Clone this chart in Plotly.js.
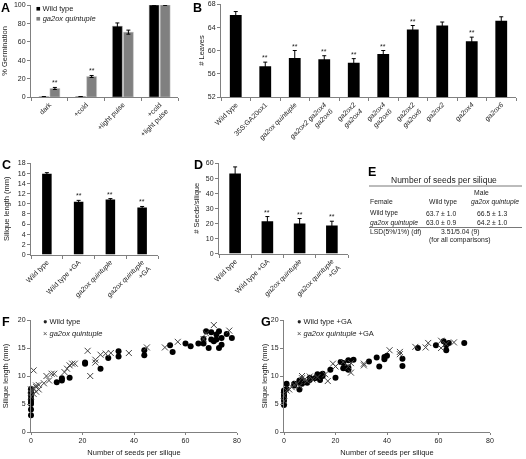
<!DOCTYPE html>
<html><head><meta charset="utf-8">
<script src="https://cdn.plot.ly/plotly-3.0.1.min.js"></script>
<style>body{margin:0;background:#fff}#c{width:526px;height:459px}#c svg{filter:grayscale(100%)}</style>
</head><body><div id="c"></div>
<script>
// ---------- data ----------
const germCats = ['dark', '+cold', '+light pulse', '+cold +light pulse'];
const germLabels = ['dark', '+cold', '+light pulse', '+cold<br>+light pulse'];
const germWT = [0.3, 0.5, 77, 100];
const germWTErr = [0, 0, 3.5, 0.4];
const germQ = [9.3, 22.3, 70.5, 100];
const germQErr = [1.1, 1.1, 2.2, 0.4];
const germQSig = [true, true, false, false];

const leafCats = ['Wild type', '35S:GA20ox1', 'ga2ox quintuple', 'ga2ox2 ga2ox4 ga2ox6', 'ga2ox2 ga2ox4', 'ga2ox4 ga2ox6', 'ga2ox2 ga2ox6', 'ga2ox2', 'ga2ox4', 'ga2ox6'];
const leafLabels = ['Wild type', '35S:GA20ox1', '<i>ga2ox quintuple</i>', '<i>ga2ox2 ga2ox4<br>ga2ox6</i>', '<i>ga2ox2<br>ga2ox4</i>', '<i>ga2ox4<br>ga2ox6</i>', '<i>ga2ox2<br>ga2ox6</i>', '<i>ga2ox2</i>', '<i>ga2ox4</i>', '<i>ga2ox6</i>'];
const leafVals = [66.1, 57.3, 58.7, 58.5, 57.9, 59.4, 63.6, 64.3, 61.6, 65.1];
const leafErr = [0.6, 0.7, 1.3, 0.6, 0.7, 0.6, 0.7, 0.6, 0.7, 0.7];
const leafSig = [false, true, true, true, true, true, true, false, true, false];

const treatCats = ['Wild type', 'Wild type +GA', 'ga2ox quintuple', 'ga2ox quintuple +GA'];
const treatLabels = ['Wild type', 'Wild type +GA', '<i>ga2ox quintuple</i>', '<i>ga2ox quintuple</i><br>+GA'];
const siliqueLen = [15.9, 10.4, 10.8, 9.25];
const siliqueLenErr = [0.2, 0.25, 0.2, 0.2];
const seedsPerSilique = [53, 21.4, 19.9, 18.6];
const seedsErr = [4.4, 3.1, 3.3, 2.8];
const treatSig = [false, true, true, true];

const tableTitle = 'Number of seeds per silique';
const tableMale = 'Male';
const tableHeader = ['Female', 'Wild type', '<i>ga2ox quintuple</i>'];
const tableRow1 = ['Wild type', '63.7 ± 1.0', '66.5 ± 1.3'];
const tableRow2 = ['<i>ga2ox quintuple</i>', '63.0 ± 0.9', '64.2 ± 1.0'];
const tableLSD = ['LSD(5%/1%) (df)', '3.51/5.04 (9)', '(for all comparisons)'];

const fWtX = [0,0,0,0,0,0,0,0, 10,12,12,15, 21,21, 27,30,34,34, 44,44, 54,55,60,62,65, 67,67,68,69,70,70,71,72,72,73,73,74,74,76,78];
const fWtY = [3.0,4.0,5.0,5.4,5.9,6.5,7.1,7.7, 8.9,9.2,9.6,9.7, 12.2,12.4, 11.3,13.2,13.5,14.4, 13.7,14.6, 15.5,14.3,15.8,15.3,15.8, 15.8,16.6,18.0,15.0,17.8,16.5,16.2,17.4,16.5,18.0,15.0,15.6,16.8,17.5,16.8];
const fQX = [0,0,0,1,1,1,2,2,2,3,3, 5,6,7,8,9,13,14,15,16,17, 22,23,25,25,27,29,31,38, 45,52,57,67,68,71,77];
const fQY = [6.3,7.0,7.6,11.0,6.8,7.8,8.3,7.2,8.0,7.6,8.4, 8.7,10.0,9.2,10.4,10.4,10.7,11.3,11.9,12.2,12.2, 14.5,10.0,12.9,12.4,13.8,14.0,14.1,14.1, 15.1,15.1,16.1,16.6,17.6,19.1,18.1];

const gWtX = [0,0,0,0,0,0, 1,1, 4,4, 6,6,6, 7,7, 9,10,10, 12,13,13,14,15,15, 18,20, 22,23,23,24,25,25,25,27, 33,36,37,39,39,40, 46,46, 52,59,62,63,63,64,70];
const gWtY = [4.8,5.6,6.2,6.6,7.0,7.4, 7.7,8.6, 8.3,8.6, 7.6,8.9,9.2, 8.6,9.3, 8.8,9.3,9.7, 9.6,10.3,9.9,9.3,10.0,10.4, 11.1,9.7, 12.5,12.3,11.4,11.4,11.1,11.5,12.8,12.9, 12.6,13.3,11.7,13.0,13.4,13.6, 13.1,11.8, 15.0,15.5,16.2,15.5,14.6,15.9,15.9];
const gQX = [0,0,1,2,3,4,5,6,7,7,8,9,10,11,13,16,17,19,20,23,25,26,26,31,31,41,45,45,51,55,56,61,61,63,66];
const gQY = [5.5,6.5,7.4,7.6,8.0,8.4,8.6,8.2,9.6,10.0,9.4,9.1,9.9,9.4,9.8,10.3,9.1,12.2,11.7,12.5,11.7,10.6,12.3,12.2,11.9,14.6,14.3,13.9,15.2,15.1,15.9,15.0,16.3,15.7,16.0];

// ---------- layout helpers ----------
const W = 526, H = 459;
const FONT = 'Liberation Sans, Arial, sans-serif';
const px = v => v / W;
const py = v => 1 - v / H;
const dx = (a, b) => [a / W, b / W];
const dy = (t, b) => [1 - b / H, 1 - t / H];
const AX = '#808080';
const TXT = '#222';

function axis(extra) {
  return Object.assign({
    showline: true, linecolor: AX, linewidth: 1, ticks: 'outside', ticklen: 3,
    tickcolor: AX, tickwidth: 1, showgrid: false, zeroline: false, fixedrange: true,
    tickfont: {family: FONT, size: 7, color: TXT}
  }, extra);
}
function catAxis(dom, anchor, cats, labels) {
  return axis({domain: dom, anchor: anchor, type: 'category', tickson: 'boundaries',
    tickmode: 'array', tickvals: cats, ticktext: labels, tickangle: -45,
    range: [-0.5, cats.length - 0.5]});
}
function ytitle(t, standoff) {
  return {text: t, font: {family: FONT, size: 7.5, color: TXT}, standoff: standoff};
}
const errStyle = (arr) => ({type: 'data', array: arr, visible: true, color: '#000', thickness: 1, width: 2});

const traces = [
  {type: 'bar', x: germCats, y: germWT, error_y: errStyle(germWTErr), xaxis: 'x', yaxis: 'y',
   marker: {color: '#000', line: {color: '#bbb', width: 0.5}}, offset: -0.285, width: 0.27, name: 'Wild type'},
  {type: 'bar', x: germCats, y: germQ, error_y: errStyle(germQErr), xaxis: 'x', yaxis: 'y',
   marker: {color: '#808080', line: {color: '#ccc', width: 0.5}}, offset: 0.015, width: 0.27, name: 'ga2ox quintuple'},
  {type: 'bar', x: leafCats, y: leafVals, error_y: errStyle(leafErr), xaxis: 'x2', yaxis: 'y2',
   marker: {color: '#000'}, width: 0.4, name: 'leaves'},
  {type: 'bar', x: treatCats, y: siliqueLen, error_y: errStyle(siliqueLenErr), xaxis: 'x3', yaxis: 'y3',
   marker: {color: '#000'}, width: 0.3, name: 'silique'},
  {type: 'bar', x: treatCats, y: seedsPerSilique, error_y: errStyle(seedsErr), xaxis: 'x4', yaxis: 'y4',
   marker: {color: '#000'}, width: 0.36, name: 'seeds'},
  {type: 'scatter', mode: 'markers', x: fWtX, y: fWtY, xaxis: 'x5', yaxis: 'y5', cliponaxis: false,
   marker: {symbol: 'circle', size: 6, color: '#000'}, name: 'Wild type'},
  {type: 'scatter', mode: 'markers', x: fQX, y: fQY, xaxis: 'x5', yaxis: 'y5', cliponaxis: false,
   marker: {symbol: 'x-thin', size: 6, line: {color: '#444', width: 1}}, name: 'ga2ox quintuple'},
  {type: 'scatter', mode: 'markers', x: gWtX, y: gWtY, xaxis: 'x6', yaxis: 'y6', cliponaxis: false,
   marker: {symbol: 'circle', size: 6, color: '#000'}, name: 'Wild type +GA'},
  {type: 'scatter', mode: 'markers', x: gQX, y: gQY, xaxis: 'x6', yaxis: 'y6', cliponaxis: false,
   marker: {symbol: 'x-thin', size: 6, line: {color: '#444', width: 1}}, name: 'ga2ox quintuple +GA'}
];

const annotations = [];
const shapes = [];
function txt(x, y, text, opt, size) {
  annotations.push(Object.assign({xref: 'paper', yref: 'paper', x: px(x), y: py(y), text: text,
    showarrow: false, xanchor: 'left', yanchor: 'middle', borderpad: 0,
    font: {family: FONT, size: size || 7.5, color: TXT}}, opt || {}));
}
function letter(x, y, t) {
  txt(x, y, '<b>' + t + '</b>', {font: {family: FONT, size: 12.5, color: '#000'}});
}
function stars(xref, yref, ys, errs, sig, xoff) {
  sig.forEach((s, i) => {
    if (!s) return;
    annotations.push({xref: xref, yref: yref, x: i + (xoff || 0), y: ys[i] + errs[i], text: '**',
      showarrow: false, yanchor: 'bottom', xanchor: 'center', yshift: 0, borderpad: 0,
      font: {family: FONT, size: 7, color: TXT}});
  });
}
stars('x', 'y', germQ, germQErr, germQSig, 0.15);
stars('x2', 'y2', leafVals, leafErr, leafSig, 0);
stars('x3', 'y3', siliqueLen, siliqueLenErr, treatSig, 0);
stars('x4', 'y4', seedsPerSilique, seedsErr, treatSig, 0);

letter(0, 8, 'A'); letter(192, 8, 'B'); letter(1, 165, 'C'); letter(193, 165, 'D');
letter(367, 172, 'E'); letter(1, 322, 'F'); letter(260, 322, 'G');

// legends
txt(35, 8, '<span style="color:#000">■</span> Wild type');
txt(35, 18.5, '<span style="color:#808080">■</span> <i>ga2ox quintuple</i>');
txt(42, 321, '● Wild type');
txt(42, 333, '<span style="color:#444">×</span> <i>ga2ox quintuple</i>');
txt(296, 321, '● Wild type +GA');
txt(296, 333, '<span style="color:#444">×</span> <i>ga2ox quintuple</i> +GA');

// table E
const TS = 6.8;
txt(444, 180, tableTitle, {xanchor: 'center'}, 8.5);
txt(481, 192, tableMale, {xanchor: 'center'}, TS);
txt(369, 202, tableHeader[0], {}, TS); txt(443, 202, tableHeader[1], {xanchor: 'center'}, TS); txt(495, 202, tableHeader[2], {xanchor: 'center'}, TS);
txt(369, 213, tableRow1[0], {}, TS); txt(441, 213, tableRow1[1], {xanchor: 'center'}, TS); txt(492, 213, tableRow1[2], {xanchor: 'center'}, TS);
txt(369, 222.5, tableRow2[0], {}, TS); txt(441, 222.5, tableRow2[1], {xanchor: 'center'}, TS); txt(492, 222.5, tableRow2[2], {xanchor: 'center'}, TS);
txt(369, 232, tableLSD[0], {}, TS); txt(460, 232, tableLSD[1], {xanchor: 'center'}, TS); txt(460, 240, tableLSD[2], {xanchor: 'center'}, TS);
shapes.push({type: 'line', xref: 'paper', yref: 'paper', x0: px(369), x1: px(522), y0: py(186), y1: py(186), line: {color: '#555', width: 0.8}});
shapes.push({type: 'line', xref: 'paper', yref: 'paper', x0: px(369), x1: px(522), y0: py(227.5), y1: py(227.5), line: {color: '#555', width: 0.8}});

const layout = {
  width: W, height: H, margin: {l: 0, r: 0, t: 0, b: 0}, showlegend: false,
  paper_bgcolor: '#fff', plot_bgcolor: 'rgba(0,0,0,0)', barmode: 'overlay',
  font: {family: FONT, size: 7, color: TXT},
  xaxis: catAxis(dx(31, 178), 'y', germCats, germLabels),
  yaxis: axis({domain: dy(5, 97), anchor: 'x', range: [0, 100], dtick: 20, title: ytitle('% Germination', 7)}),
  xaxis2: catAxis(dx(221, 516), 'y2', leafCats, leafLabels),
  yaxis2: axis({domain: dy(4, 97), anchor: 'x2', range: [52, 68], dtick: 4, title: ytitle('# Leaves', 2)}),
  xaxis3: catAxis(dx(31, 158), 'y3', treatCats, treatLabels),
  yaxis3: axis({domain: dy(163, 254.5), anchor: 'x3', range: [0, 18], dtick: 2, title: ytitle('Silique length (mm)', 7)}),
  xaxis4: catAxis(dx(219, 348), 'y4', treatCats, treatLabels),
  yaxis4: axis({domain: dy(163, 253.5), anchor: 'x4', range: [0, 60], dtick: 10, title: ytitle('# Seeds/silique', 5)}),
  xaxis5: axis({domain: dx(31, 237), anchor: 'y5', range: [0, 80], dtick: 20, ticklen: 2,
    title: {text: 'Number of seeds per silique', font: {family: FONT, size: 7.5, color: TXT}, standoff: 6}}),
  yaxis5: axis({domain: dy(320, 432), anchor: 'x5', range: [0, 20], dtick: 5, title: ytitle('Silique length (mm)', 8)}),
  xaxis6: axis({domain: dx(284, 490), anchor: 'y6', range: [0, 80], dtick: 20, ticklen: 2,
    title: {text: 'Number of seeds per silique', font: {family: FONT, size: 7.5, color: TXT}, standoff: 6}}),
  yaxis6: axis({domain: dy(320, 432), anchor: 'x6', range: [0, 20], dtick: 5, title: ytitle('Silique length (mm)', 2)}),
  annotations: annotations, shapes: shapes
};
Plotly.newPlot('c', traces, layout, {staticPlot: true, displayModeBar: false});
</script></body></html>
